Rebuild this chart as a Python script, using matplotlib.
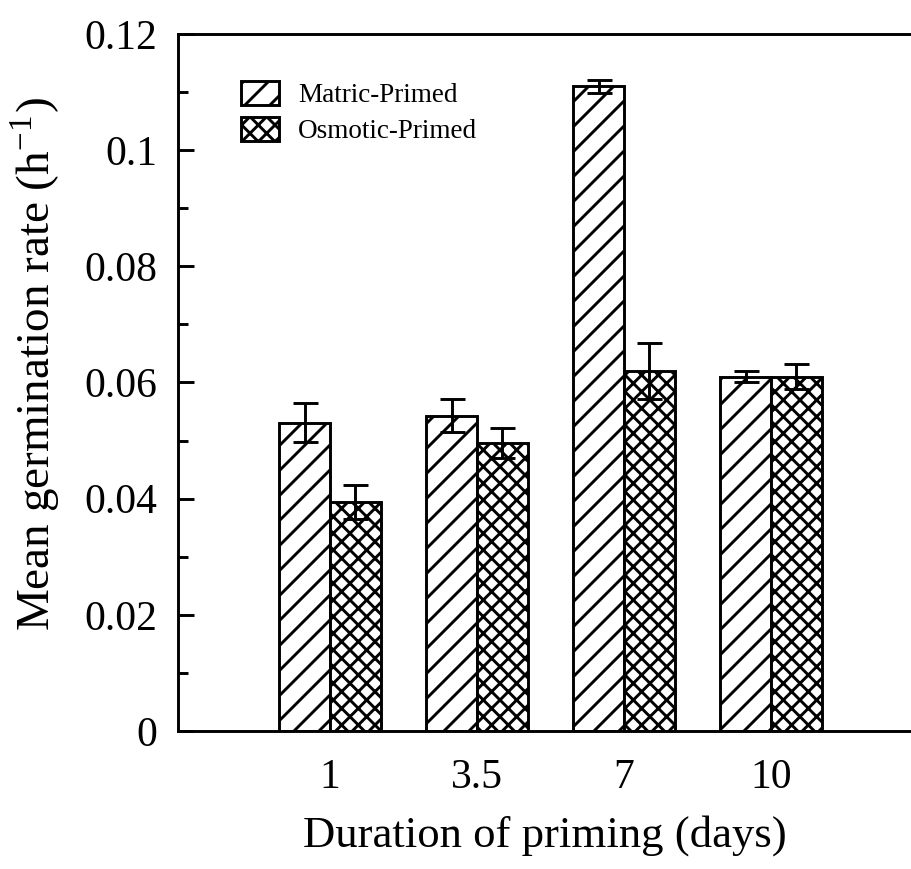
import numpy as np
import matplotlib
matplotlib.use("Agg")
import matplotlib.pyplot as plt
from matplotlib.ticker import FixedLocator, MultipleLocator

# data
durations = ["1", "3.5", "7", "10"]
matric = [0.0531, 0.0543, 0.1110, 0.0610]
matric_err = [0.0033, 0.0028, 0.0011, 0.0010]
osmotic = [0.0394, 0.0496, 0.0620, 0.0610]
osmotic_err = [0.0029, 0.0026, 0.0048, 0.0021]
ytick_values = [0, 0.02, 0.04, 0.06, 0.08, 0.1, 0.12]
ytick_labels = ["0", "0.02", "0.04", "0.06", "0.08", "0.1", "0.12"]

plt.rcParams['font.family'] = ['Liberation Serif', 'DejaVu Serif']
plt.rcParams['mathtext.fontset'] = 'stix'
plt.rcParams['hatch.linewidth'] = 0.7
plt.rcParams['hatch.color'] = 'black'

DPI = 300
fig = plt.figure(figsize=(911 / DPI, 869 / DPI), dpi=DPI)
ax = fig.add_axes([178 / 911, (869 - 731) / 869, 1 - 178 / 911, (731 - 34) / 869])

x = np.arange(len(durations))
w = 0.345

bars_m = ax.bar(x - w / 2, matric, w, facecolor='white', edgecolor='black',
                linewidth=0.7, hatch='////', label='Matric-Primed', zorder=2)
bars_o = ax.bar(x + w / 2, osmotic, w, facecolor='white', edgecolor='black',
                linewidth=0.7, hatch='xxxxxx', label='Osmotic-Primed', zorder=2)

ax.errorbar(x - w / 2, matric, yerr=matric_err, fmt='none', ecolor='black',
            elinewidth=0.7, capsize=3, capthick=0.7, zorder=3)
ax.errorbar(x + w / 2, osmotic, yerr=osmotic_err, fmt='none', ecolor='black',
            elinewidth=0.7, capsize=3, capthick=0.7, zorder=3)

# axes limits (axis runs past the right edge of the picture)
ax.set_xlim((178 - 330) / 147, (911 - 330) / 147)
ax.set_ylim(0, 0.12)

ax.set_xticks(x)
ax.set_xticklabels(durations, fontsize=10)
ax.tick_params(axis='x', length=0, pad=6.5)

ax.yaxis.set_major_locator(FixedLocator(ytick_values))
ax.set_yticklabels(ytick_labels, fontsize=10)
ax.yaxis.set_minor_locator(MultipleLocator(0.01))
ax.tick_params(axis='y', which='major', direction='in', length=3.8, width=0.7, pad=5)
ax.tick_params(axis='y', which='minor', direction='in', length=2.4, width=0.7)

for side in ['left', 'top', 'bottom']:
    ax.spines[side].set_linewidth(0.7)
ax.spines['right'].set_visible(False)

ax.set_xlabel('Duration of priming (days)', fontsize=10.75)
ax.xaxis.set_label_coords(0.5, -0.12)
fig.text(36 / 911, (869 - 364) / 869, r'Mean germination rate (h$^{\mathregular{-1}}$)',
         rotation=90, ha='center', va='center', fontsize=11.3)

ax.legend(handles=[bars_m, bars_o], loc='upper left',
          bbox_to_anchor=((241 - 178) / 733, (731 - 81) / 697),
          frameon=False, fontsize=6.5, borderpad=0, borderaxespad=0,
          handlelength=1.4, handleheight=1.0, handletextpad=0.7, labelspacing=0.3)

fig.savefig('out.png', dpi=DPI)
